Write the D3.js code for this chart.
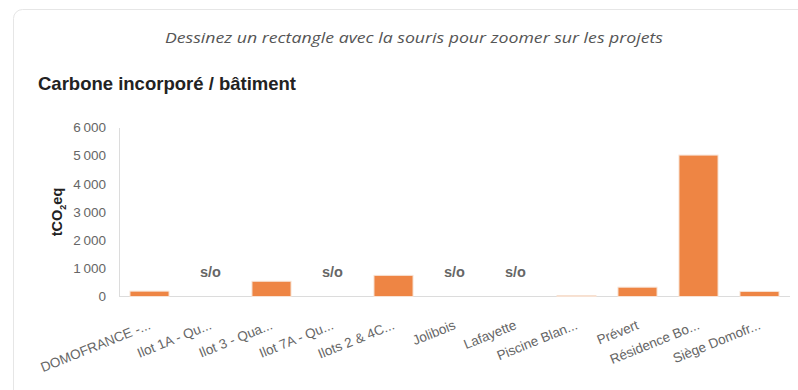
<!DOCTYPE html>
<html>
<head>
<meta charset="utf-8">
<script src="https://cdn.jsdelivr.net/npm/d3@7"></script>
<style>
  html, body { margin: 0; padding: 0; background: #fff; }
  svg { display: block; }
</style>
</head>
<body>
<svg id="chart" width="798" height="390"></svg>
<script>
// Projects and embodied carbon (tCO2eq); null = not applicable ("s/o")
const categories = [
  "DOMOFRANCE -...", "Ilot 1A - Qu...", "Ilot 3 - Qua...", "Ilot 7A - Qu...",
  "Ilots 2 & 4C...", "Jolibois", "Lafayette", "Piscine Blan...",
  "Prévert", "Résidence Bo...", "Siège Domofr..."
];
const values = [190, null, 540, null, 750, null, null, 30, 330, 5020, 180];
const yTicks = [0, 1000, 2000, 3000, 4000, 5000, 6000];

const svg = d3.select("#chart");

// Card background
svg.append("rect")
  .attr("x", 13.5).attr("y", 9.5)
  .attr("width", 820).attr("height", 420)
  .attr("rx", 9).attr("ry", 9)
  .attr("fill", "#fff")
  .attr("stroke", "#e6e6e6");

svg.append("text")
  .attr("x", 414).attr("y", 43)
  .attr("text-anchor", "middle")
  .attr("font-family", "'Open Sans', Lato, sans-serif")
  .attr("font-style", "italic")
  .attr("font-size", 14.5)
  .attr("fill", "#555")
  .attr("textLength", 498)
  .attr("lengthAdjust", "spacingAndGlyphs")
  .text("Dessinez un rectangle avec la souris pour zoomer sur les projets");

svg.append("text")
  .attr("x", 38).attr("y", 90)
  .attr("font-family", "'Liberation Sans', Arial, sans-serif")
  .attr("font-weight", "bold")
  .attr("font-size", 18.5)
  .attr("fill", "#222")
  .text("Carbone incorporé / bâtiment");

const x = d3.scaleBand()
  .domain(categories)
  .range([119, 790])
  .paddingInner(0.36)
  .paddingOuter(0.18);

const y = d3.scaleLinear()
  .domain([0, 6000])
  .range([296.5, 127.5]);

const fr = d3.formatLocale({ decimal: ",", thousands: "\u202f", grouping: [3], currency: ["", " €"] });
const fmt = fr.format(",d");

const font = "'Liberation Sans', Arial, sans-serif";

// Y axis
const yAxis = svg.append("g")
  .attr("transform", "translate(119,0)")
  .call(d3.axisLeft(y).tickValues(yTicks).tickFormat(fmt).tickSize(0).tickPadding(13));
yAxis.select(".domain").attr("stroke", "#dcdcdc");
yAxis.selectAll("text")
  .attr("font-family", font)
  .attr("font-size", 13.5)
  .attr("fill", "#666");

// X axis
const xAxis = svg.append("g")
  .attr("transform", "translate(0,296.5)")
  .call(d3.axisBottom(x).tickSize(0).tickPadding(0));
xAxis.select(".domain").attr("stroke", "#dcdcdc").attr("d", "M119,0H790");
xAxis.selectAll("text")
  .attr("font-family", font)
  .attr("font-size", 13.5)
  .attr("fill", "#666")
  .attr("text-anchor", "end")
  .attr("dy", null)
  .attr("y", 0)
  .attr("x", 0)
  .attr("transform", "translate(2,32) rotate(-22)");

// Y axis title with subscript
const yt = svg.append("text")
  .attr("transform", "translate(62,212) rotate(-90)")
  .attr("text-anchor", "middle")
  .attr("font-family", font)
  .attr("font-weight", "bold")
  .attr("font-size", 14.5)
  .attr("fill", "#222");
yt.append("tspan").text("tCO");
yt.append("tspan").attr("font-size", 9).attr("dy", 4).text("2");
yt.append("tspan").attr("dy", -4).text("eq");

// Bars
svg.append("g").selectAll("rect")
  .data(categories.map((c, i) => ({ c, v: values[i] })).filter(d => d.v !== null))
  .join("rect")
  .attr("x", d => x(d.c))
  .attr("width", x.bandwidth())
  .attr("y", d => y(d.v))
  .attr("height", d => y(0) - y(d.v))
  .attr("fill", "#ee8544")
  .attr("stroke", "#f7e2d4")
  .attr("stroke-width", 1);

// "s/o" markers for projects without a value
svg.append("g").selectAll("text")
  .data(categories.map((c, i) => ({ c, v: values[i] })).filter(d => d.v === null))
  .join("text")
  .attr("x", d => x(d.c) + x.bandwidth() / 2)
  .attr("y", 276.5)
  .attr("text-anchor", "middle")
  .attr("font-family", font)
  .attr("font-weight", "bold")
  .attr("font-size", 14.5)
  .attr("fill", "#666")
  .text("s/o");
</script>
</body>
</html>
